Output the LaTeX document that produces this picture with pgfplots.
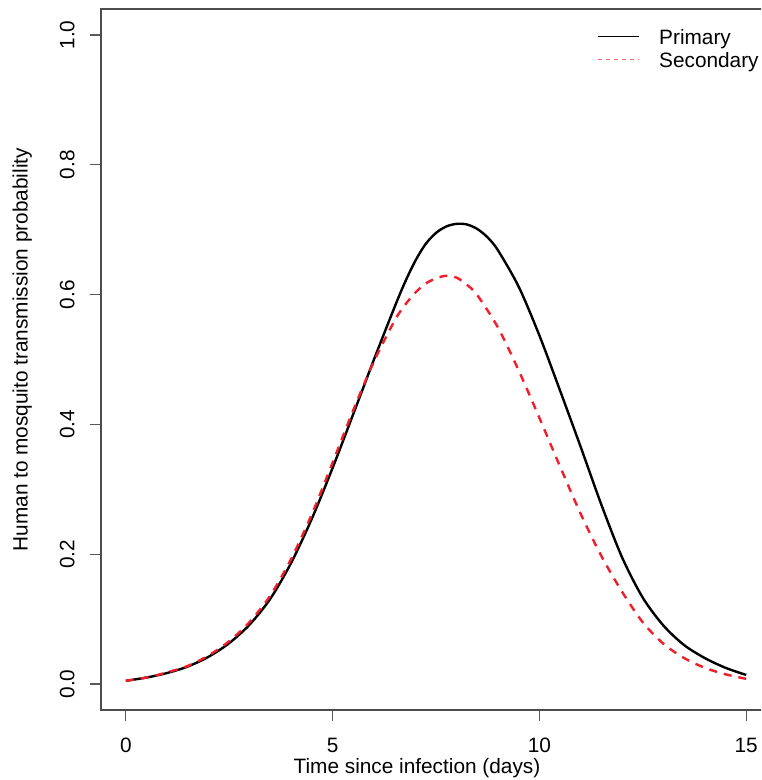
\documentclass[border=0pt]{standalone}
\usepackage{fontspec}
\setmainfont{Liberation Sans}
\usepackage{pgfplots}
\usepackage{pgfplotstable}
\pgfplotsset{compat=1.18}
\definecolor{rred}{RGB}{240,30,40}

\pgfplotstableread{
x y
0.0 0.005
0.5 0.010
1.0 0.017
1.5 0.027
2.0 0.042
2.5 0.063
3.0 0.092
3.5 0.132
4.0 0.187
4.5 0.255
5.0 0.333
5.5 0.416
6.0 0.500
6.5 0.581
6.75 0.619
7.0 0.652
7.25 0.678
7.5 0.695
7.75 0.705
8.0 0.709
8.25 0.708
8.5 0.701
8.75 0.688
9.0 0.668
9.5 0.612
10.0 0.537
10.5 0.452
11.0 0.365
11.5 0.276
12.0 0.195
12.5 0.133
13.0 0.090
13.5 0.060
14.0 0.040
14.5 0.025
15.0 0.014
}\primary

\pgfplotstableread{
x y
0.0 0.005
0.5 0.010
1.0 0.018
1.5 0.028
2.0 0.044
2.5 0.066
3.0 0.096
3.5 0.137
4.0 0.193
4.5 0.262
5.0 0.341
5.5 0.422
6.0 0.497
6.5 0.560
6.75 0.584
7.0 0.603
7.25 0.617
7.5 0.625
7.75 0.629
8.0 0.626
8.25 0.615
8.5 0.599
9.0 0.549
9.5 0.483
10.0 0.410
10.5 0.335
11.0 0.262
11.5 0.197
12.0 0.142
12.5 0.095
13.0 0.062
13.5 0.040
14.0 0.025
14.5 0.015
15.0 0.008
}\secondary

\begin{document}
\begin{tikzpicture}
\begin{scope}
\clip (-50.5pt,-35pt) rectangle (330pt,355pt);
\begin{axis}[
  at={(0pt,0pt)}, anchor=south west,
  scale only axis, width=335pt, height=350.5pt,
  xmin=-0.6, xmax=15.6, ymin=-0.04, ymax=1.04,
  font=\fontsize{10.4}{12.5}\selectfont,
  axis line style={draw=black!70, line width=0.9pt},
  xtick={0,5,10,15}, xticklabels={0,5,10,15},
  ytick={0,0.2,0.4,0.6,0.8,1.0},
  yticklabels={0.0,0.2,0.4,0.6,0.8,1.0},
  tick align=outside, major tick length=5.5pt,
  xtick pos=bottom, ytick pos=left,
  tick style={draw=black!65, line width=0.6pt},
  x tick label style={anchor=north, inner sep=0pt},
  xticklabel shift=8.5pt,
  y tick label style={rotate=90, anchor=south, inner sep=0pt},
  yticklabel shift=7.5pt,
  xlabel={Time since infection (days)},
  ylabel={Human to mosquito transmission probability},
  xlabel style={at={(axis description cs:0.4716,0)}, anchor=north, inner sep=0pt, yshift=-24pt},
  ylabel style={at={(axis description cs:-0.1024,0.514)}, anchor=south, inner sep=0pt},
  legend style={at={(axis description cs:0.740,0.9707)}, anchor=north west,
    draw=none, fill=none, inner sep=0pt, row sep=1.8pt,
    nodes={inner sep=0pt, text height=7.5pt, text depth=2.2pt},
    /tikz/every odd column/.style={column sep=10pt}},
  legend cell align=left,
]
\addplot[black, line width=1.2pt, smooth,
  legend image code/.code={\draw[black, line width=0.5pt] (0pt,1.5pt) -- (20.5pt,1.5pt);}]
  table {\primary};
\addlegendentry{Primary}
\addplot[rred, line width=1.2pt, smooth, dash pattern=on 4pt off 3.5pt,
  legend image code/.code={\draw[rred!70, line width=0.5pt, dash pattern=on 2pt off 2pt] (0pt,1.5pt) -- (20.5pt,1.5pt);}]
  table {\secondary};
\addlegendentry{Secondary}
\end{axis}
\end{scope}
\pgfresetboundingbox
\path[use as bounding box] (-50.5pt,-35pt) rectangle (330pt,355pt);
\end{tikzpicture}
\end{document}
